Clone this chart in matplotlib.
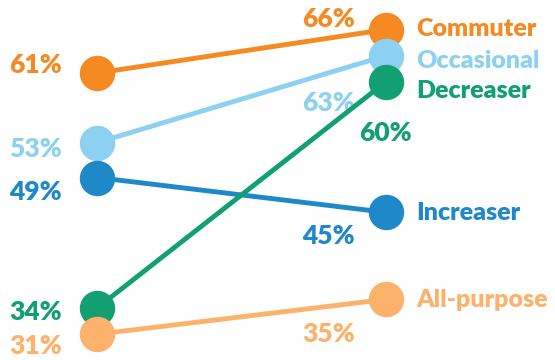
import matplotlib.pyplot as plt

# share of each rider group, before and after
groups = ['Commuter', 'Occasional', 'Increaser', 'Decreaser', 'All-purpose']
before = [61, 53, 49, 34, 31]
after = [66, 63, 45, 60, 35]
colors = ['#F58A22', '#8DD1F2', '#1F88C9', '#12A073', '#FDB26C']

# label offsets in pixels: (dx, dy) with dy measured downward to the baseline
left_off = [(-35, 0), (-35, 14), (-35, 22), (-35, 12), (-35, 20)]
right_off = [(-31, -3), (-31, 55), (-31, 32), (26, 59), (-31, 43)]
name_off = [(30, 6), (30, 12), (30, 8), (30, 16), (30, 8)]

plt.rcParams['font.family'] = ['Lato', 'DejaVu Sans']

fig = plt.figure(figsize=(5.55, 3.6), dpi=100)
ax = fig.add_axes([0, 0, 1, 1])
ax.set_xlim(-0.3356, 1.585)
ax.set_ylim(28.04, 69.39)
ax.axis('off')

fs = 19
for i, g in enumerate(groups):
    c = colors[i]
    ax.plot([0, 1], [before[i], after[i]], color=c, lw=3.5,
            marker='o', markersize=24.5, solid_capstyle='butt',
            clip_on=False, zorder=2 + i)
    dx, dy = left_off[i]
    ax.annotate(f'{before[i]}%', (0, before[i]), xytext=(dx, -dy),
                textcoords='offset pixels', ha='right', va='baseline',
                color=c, fontsize=fs, fontweight='heavy')
    dx, dy = right_off[i]
    ax.annotate(f'{after[i]}%', (1, after[i]), xytext=(dx, -dy),
                textcoords='offset pixels', ha='right', va='baseline',
                color=c, fontsize=fs, fontweight='heavy')
    dx, dy = name_off[i]
    ax.annotate(g, (1, after[i]), xytext=(dx, -dy),
                textcoords='offset pixels', ha='left', va='baseline',
                color=c, fontsize=18, fontweight='heavy')

fig.savefig('out.png', dpi=100)
